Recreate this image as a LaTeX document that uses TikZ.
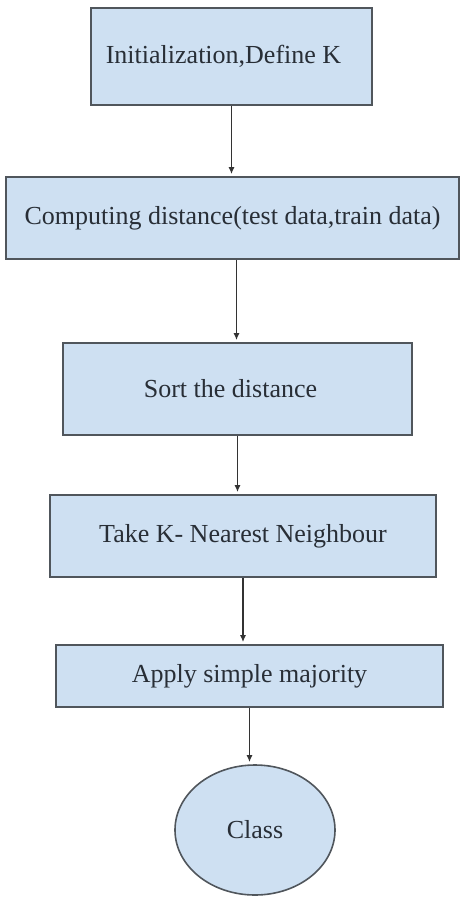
\documentclass[tikz,border=0pt]{standalone}
\usepackage{fontspec}
\setmainfont{Liberation Serif}
\usetikzlibrary{shapes.geometric,arrows.meta}
\definecolor{boxfill}{RGB}{206,224,242}
\definecolor{boxline}{RGB}{80,86,92}
\definecolor{txt}{RGB}{40,46,54}
\tikzset{
  stepbox/.style={draw=boxline, fill=boxfill, line width=1.6pt, rectangle, inner sep=0pt,
    font=\fontsize{26}{30}\selectfont, text=txt},
  endnode/.style={draw=boxline, fill=boxfill, line width=1.6pt, ellipse, inner sep=0pt,
    font=\fontsize{26}{30}\selectfont, text=txt},
  flow/.style={draw=black!80, line width=1.4pt, -{Latex[length=7pt,width=6pt]}, shorten >=2pt}
}
\begin{document}
\begin{tikzpicture}[x=1pt,y=-1pt]
\useasboundingbox (0,0) rectangle (459,897);
\node[stepbox, minimum width=281pt, minimum height=97pt] (b1) at (231.5,56.5) {\raisebox{2pt}{Initialization,Define K}\kern16pt};
\node[stepbox, minimum width=453pt, minimum height=82pt] (b2) at (232.5,218) {Computing distance(test data,train data)};
\node[stepbox, minimum width=349pt, minimum height=92pt] (b3) at (237.5,389) {Sort the distance\kern14pt};
\node[stepbox, minimum width=386pt, minimum height=82pt] (b4) at (243,536) {Take K- Nearest Neighbour};
\node[stepbox, minimum width=387pt, minimum height=62pt] (b5) at (249.5,676) {Apply simple majority};
\node[endnode, minimum width=160pt, minimum height=130pt] (c) at (255,830) {Class};
\coordinate (s2) at ([xshift=4pt]b2.south);
\draw[flow] (b1.south) -- (b2.north -| b1.south);
\draw[flow] (s2) -- (b3.north -| s2);
\draw[flow] (b3.south) -- (b4.north -| b3.south);
\draw[flow] (b4.south) -- (b5.north -| b4.south);
\draw[flow] (b5.south) -- (c.north -| b5.south);
\end{tikzpicture}
\end{document}
